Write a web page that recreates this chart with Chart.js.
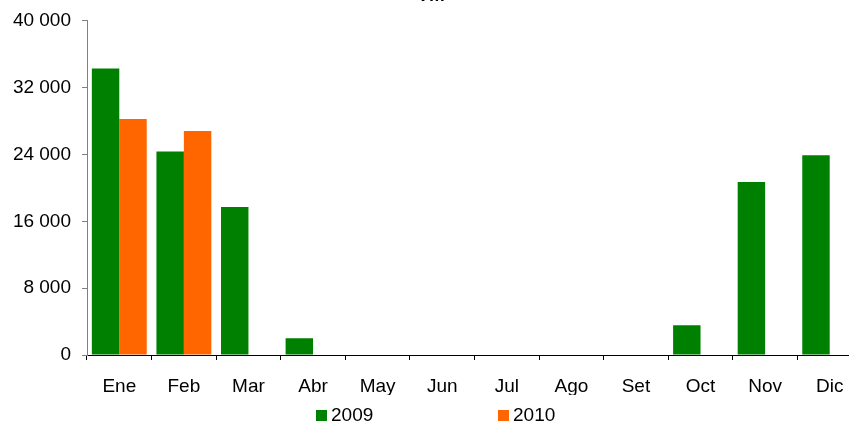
<!DOCTYPE html>
<html>
<head>
<meta charset="utf-8">
<script src="https://cdn.jsdelivr.net/npm/chart.js@4/dist/chart.umd.min.js"></script>
<style>
  html, body { margin: 0; padding: 0; background: #fff; overflow: hidden; }
  .wrap { position: relative; width: 849px; height: 423px; overflow: hidden; }
  #chart { position: absolute; left: 0; top: -16px; }
  .legend { position: absolute; top: 404px; font: 19px "Liberation Sans", Arial, sans-serif; color: #000; }
  .legend span.box { display: inline-block; width: 11px; height: 11px; margin-right: 4px; vertical-align: 0px; }
</style>
</head>
<body>
<div class="wrap">
  <canvas id="chart" width="864" height="439"></canvas>
  <div class="legend" style="left:316px"><span class="box" style="background:#008000"></span>2009</div>
  <div class="legend" style="left:498px"><span class="box" style="background:#ff6600"></span>2010</div>
</div>
<script>
const months = ["Ene", "Feb", "Mar", "Abr", "May", "Jun", "Jul", "Ago", "Set", "Oct", "Nov", "Dic"];
const values2009 = [34300, 24350, 17700, 2000, null, null, null, null, null, 3570, 20700, 23900];
const values2010 = [28250, 26800, null, null, null, null, null, null, null, null, null, null];
const yTicks = [0, 8000, 16000, 24000, 32000, 40000];

const fmt = (v) => String(v).replace(/\B(?=(\d{3})+(?!\d))/g, " ");
const font = { family: "'Liberation Sans', Arial, sans-serif", size: 19 };

new Chart(document.getElementById("chart"), {
  type: "bar",
  data: {
    labels: months,
    datasets: [
      { label: "2009", data: values2009, backgroundColor: "#008000" },
      { label: "2010", data: values2010, backgroundColor: "#ff6600" },
    ],
  },
  options: {
    responsive: false,
    animation: false,
    events: [],
    categoryPercentage: 0.85,
    barPercentage: 1,
    layout: { padding: { left: 0, right: 2, top: 0, bottom: 28 } },
    plugins: {
      legend: { display: false },
      tooltip: { enabled: false },
      title: {
        display: true,
        text: "TM",
        color: "#000",
        font: { ...font, weight: "bold" },
        padding: { top: 0, bottom: 14 },
      },
    },
    scales: {
      x: {
        afterFit: (scale) => { scale.height = 40; },
        grid: { drawOnChartArea: false, tickLength: 5, color: "#000", offset: true },
        border: { color: "#000" },
        ticks: { color: "#000", font: font, padding: 15, maxRotation: 0 },
      },
      y: {
        min: 0,
        max: 40000,
        afterFit: (scale) => { scale.width = 87; },
        afterBuildTicks: (scale) => { scale.ticks = yTicks.map((v) => ({ value: v })); },
        grid: { drawOnChartArea: false, tickLength: 5, color: "#808080" },
        border: { color: "#808080" },
        ticks: { color: "#000", font: font, padding: 11, callback: (v) => fmt(v) },
      },
    },
  },
});
</script>
</body>
</html>
